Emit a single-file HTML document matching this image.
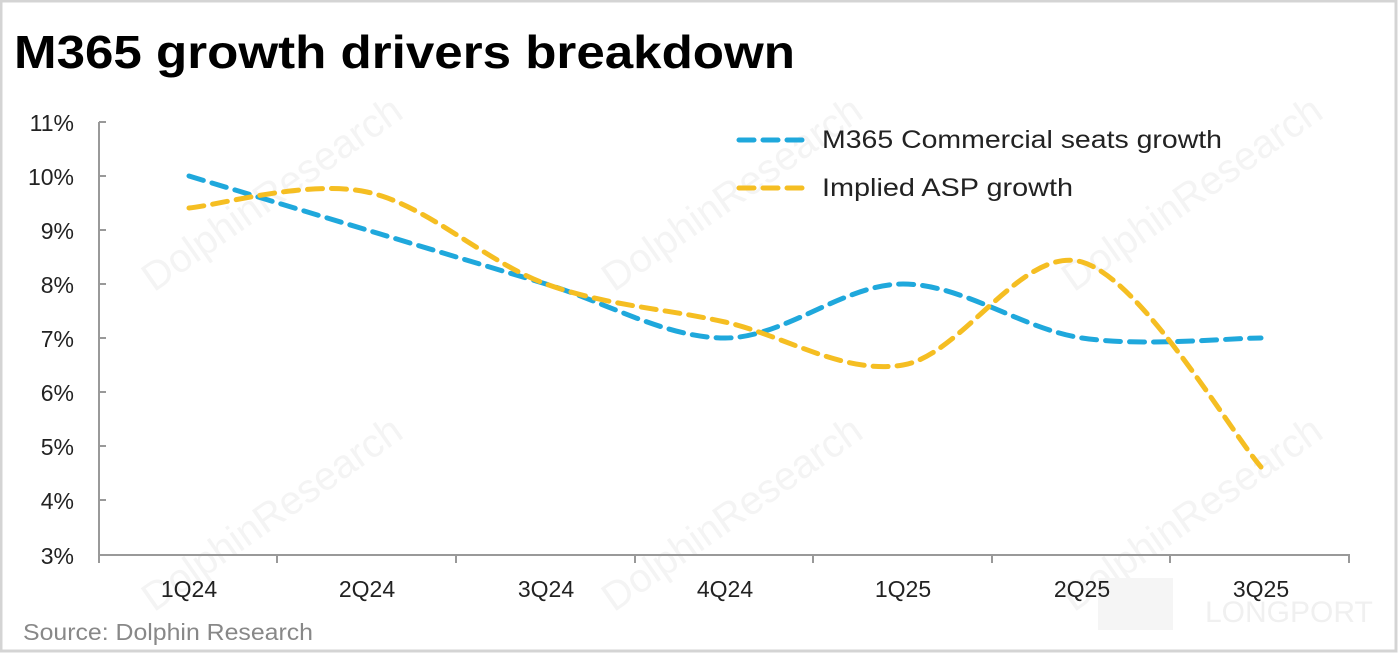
<!DOCTYPE html>
<html><head><meta charset="utf-8"><style>
html,body{margin:0;padding:0;background:#fff;}
svg{display:block;}
</style></head><body>
<svg width="1398" height="653" viewBox="0 0 1398 653" xmlns="http://www.w3.org/2000/svg" font-family="Liberation Sans, DejaVu Sans, sans-serif">
<rect x="1" y="1" width="1395" height="650" fill="#fff" stroke="#d4d4d4" stroke-width="3"/>
<text x="14" y="68" font-size="46" font-weight="bold" fill="#000" textLength="781" lengthAdjust="spacingAndGlyphs">M365 growth drivers breakdown</text>
<g fill="#f4f4f4" font-size="40" transform="rotate(-35 260 200)"><text x="120" y="215">DolphinResearch</text></g>
<g fill="#f4f4f4" font-size="40" transform="rotate(-35 720 200)"><text x="580" y="215">DolphinResearch</text></g>
<g fill="#f4f4f4" font-size="40" transform="rotate(-35 1180 200)"><text x="1040" y="215">DolphinResearch</text></g>
<g fill="#f4f4f4" font-size="40" transform="rotate(-35 260 520)"><text x="120" y="535">DolphinResearch</text></g>
<g fill="#f4f4f4" font-size="40" transform="rotate(-35 720 520)"><text x="580" y="535">DolphinResearch</text></g>
<g fill="#f4f4f4" font-size="40" transform="rotate(-35 1180 520)"><text x="1040" y="535">DolphinResearch</text></g>
<text x="1205" y="622" font-size="30" fill="#f0f0f0">LONGPORT</text>
<rect x="1098" y="578" width="75" height="52" fill="#f5f5f5"/>
<g stroke="#999" stroke-width="2" fill="none">
<line x1="99" y1="122" x2="99" y2="555"/>
<line x1="99" y1="555" x2="1350" y2="555"/>
<line x1="99" y1="122" x2="106" y2="122"/><line x1="99" y1="176" x2="106" y2="176"/><line x1="99" y1="230" x2="106" y2="230"/><line x1="99" y1="284" x2="106" y2="284"/><line x1="99" y1="338" x2="106" y2="338"/><line x1="99" y1="392" x2="106" y2="392"/><line x1="99" y1="446" x2="106" y2="446"/><line x1="99" y1="500" x2="106" y2="500"/>
<line x1="99" y1="555" x2="99" y2="563"/><line x1="277" y1="555" x2="277" y2="563"/><line x1="456" y1="555" x2="456" y2="563"/><line x1="635" y1="555" x2="635" y2="563"/><line x1="813" y1="555" x2="813" y2="563"/><line x1="992" y1="555" x2="992" y2="563"/><line x1="1170" y1="555" x2="1170" y2="563"/><line x1="1349" y1="555" x2="1349" y2="563"/>
</g>
<g font-size="23" fill="#222" text-anchor="end">
<text x="74" y="131">11%</text><text x="74" y="185">10%</text><text x="74" y="239">9%</text><text x="74" y="293">8%</text><text x="74" y="347">7%</text><text x="74" y="401">6%</text><text x="74" y="455">5%</text><text x="74" y="509">4%</text><text x="74" y="564">3%</text>
</g>
<g font-size="23" fill="#222" text-anchor="middle">
<text x="189" y="597">1Q24</text><text x="367" y="597">2Q24</text><text x="546" y="597">3Q24</text><text x="725" y="597">4Q24</text><text x="903" y="597">1Q25</text><text x="1082" y="597">2Q25</text><text x="1261" y="597">3Q25</text>
</g>
<text x="23" y="640" font-size="23" fill="#888" textLength="290" lengthAdjust="spacingAndGlyphs">Source: Dolphin Research</text>
<path d="M189,176 C218.7,185 307.5,212 367,230 C426.5,248 486.3,266 546,284 C605.7,302 665.5,338 725,338 C784.5,338 843.5,284 903,284 C962.5,284 1022.3,329 1082,338 C1141.7,347 1231.2,338 1261,338" fill="none" stroke="#1fa8dc" stroke-width="5" stroke-dasharray="15 9" stroke-linecap="round"/>
<path d="M189,208 C218.7,205.3 307.5,179.3 367,192 C426.5,204.7 486.3,262.3 546,284 C605.7,305.7 665.5,308.5 725,322 C784.5,335.5 843.5,375 903,365 C962.5,355 1022.3,245 1082,262 C1141.7,279 1231.2,432.8 1261,467" fill="none" stroke="#f5be22" stroke-width="5" stroke-dasharray="15 9" stroke-linecap="round"/>
<line x1="739" y1="140" x2="810" y2="140" stroke="#1fa8dc" stroke-width="5" stroke-dasharray="15 9" stroke-linecap="round"/>
<line x1="739" y1="188" x2="810" y2="188" stroke="#f5be22" stroke-width="5" stroke-dasharray="15 9" stroke-linecap="round"/>
<text x="822" y="148" font-size="25" fill="#222" textLength="400" lengthAdjust="spacingAndGlyphs">M365 Commercial seats growth</text>
<text x="822" y="196" font-size="25" fill="#222" textLength="251" lengthAdjust="spacingAndGlyphs">Implied ASP growth</text>
</svg>
</body></html>
